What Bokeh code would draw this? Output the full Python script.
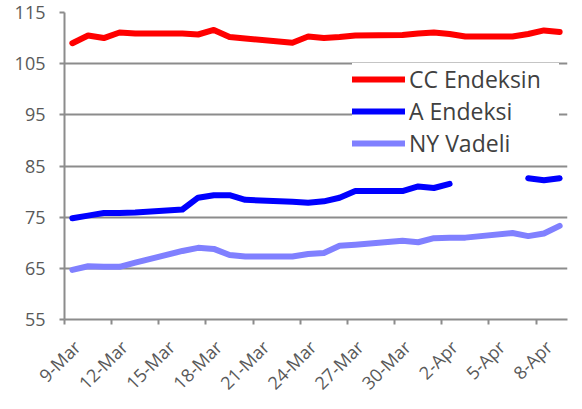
import numpy as np
import pandas as pd
from bokeh.plotting import figure
from bokeh.models import Range1d, FixedTicker, Legend, LegendItem, ColumnDataSource
from bokeh.embed import file_html
from bokeh.resources import INLINE

# ---- data ----
dates = ["2015-03-09", "2015-03-10", "2015-03-11", "2015-03-12", "2015-03-13",
         "2015-03-16", "2015-03-17", "2015-03-18", "2015-03-19", "2015-03-20",
         "2015-03-23", "2015-03-24", "2015-03-25", "2015-03-26", "2015-03-27",
         "2015-03-30", "2015-03-31", "2015-04-01", "2015-04-02", "2015-04-03",
         "2015-04-06", "2015-04-07", "2015-04-08", "2015-04-09"]
cc_index = [109.0, 110.5, 110.0, 111.1, 110.9,
            110.9, 110.7, 111.6, 110.2, 109.9,
            109.1, 110.3, 110.0, 110.2, 110.5,
            110.6, 110.9, 111.1, 110.8, 110.3,
            110.3, 110.8, 111.5, 111.2]
a_index = [74.8, 75.3, 75.8, 75.8, 75.9,
           76.5, 78.8, 79.3, 79.3, 78.4,
           78.0, 77.8, 78.1, 78.8, 80.1,
           80.1, 81.0, 80.7, 81.5, None,
           None, 82.6, 82.2, 82.6]
ny_futures = [64.7, 65.4, 65.3, 65.3, 66.1,
              68.4, 69.0, 68.8, 67.6, 67.3,
              67.3, 67.8, 68.0, 69.4, 69.6,
              70.4, 70.1, 70.9, 71.0, 71.0,
              71.9, 71.3, 71.8, 73.3]
series_names = ["CC Endeksin", "A Endeksi", "NY Vadeli"]
series_colors = ["#FF0000", "#0000FF", "#8080FF"]
x_tick_labels = ["9-Mar", "12-Mar", "15-Mar", "18-Mar", "21-Mar", "24-Mar",
                 "27-Mar", "30-Mar", "2-Apr", "5-Apr", "8-Apr"]
y_ticks = [55, 65, 75, 85, 95, 105, 115]

# ---- positions on a day axis ----
d = pd.to_datetime(dates)
start = d[0]
xday = np.array([(t - start).days for t in d], dtype=float)
n_days = int(xday[-1]) + 1
label_pos = [3 * i + 0.3 for i in range(len(x_tick_labels))]
boundary_pos = [3 * i - 0.5 for i in range(len(x_tick_labels))]

def arr(v):
    return np.array([np.nan if e is None else e for e in v], dtype=float)

src = ColumnDataSource(dict(x=xday, cc=arr(cc_index), a=arr(a_index), ny=arr(ny_futures)))

FONT = "Open Sans"
GRAY = "#8c8c8c"
TXT = "#595959"

p = figure(width=575, height=405, output_backend="svg", toolbar_location=None,
           x_range=Range1d(-0.5, n_days - 0.5), y_range=Range1d(55, 115),
           min_border_left=64, min_border_right=8, min_border_top=12,
           min_border_bottom=72)
p.outline_line_color = None
p.background_fill_color = "white"
p.border_fill_color = "white"

p.xgrid.visible = False
p.ygrid.ticker = FixedTicker(ticks=y_ticks)
p.ygrid.grid_line_color = GRAY
p.ygrid.grid_line_width = 2

# y axis
p.yaxis.ticker = FixedTicker(ticks=y_ticks)
p.yaxis.axis_line_color = GRAY
p.yaxis.axis_line_width = 2
p.yaxis.major_tick_line_color = GRAY
p.yaxis.major_tick_line_width = 2
p.yaxis.major_tick_out = 5
p.yaxis.major_tick_in = 0
p.yaxis.minor_tick_line_color = None
p.yaxis.major_label_standoff = 14
p.yaxis.major_label_text_font = FONT
p.yaxis.major_label_text_font_size = "18px"
p.yaxis.major_label_text_color = TXT

# x axis: labels at day centres, tick marks at slot boundaries
p.xaxis.ticker = FixedTicker(ticks=label_pos, minor_ticks=boundary_pos)
p.xaxis.major_label_overrides = {pos: lab for pos, lab in zip(label_pos, x_tick_labels)}
p.xaxis.major_label_orientation = np.pi / 4
p.xaxis.axis_line_color = GRAY
p.xaxis.axis_line_width = 2
p.xaxis.major_tick_line_color = None
p.xaxis.major_tick_out = 0
p.xaxis.major_tick_in = 0
p.xaxis.minor_tick_line_color = GRAY
p.xaxis.minor_tick_line_width = 2
p.xaxis.minor_tick_out = 5
p.xaxis.minor_tick_in = 0
p.xaxis.major_label_standoff = 19
p.xaxis.major_label_text_font = FONT
p.xaxis.major_label_text_font_size = "18px"
p.xaxis.major_label_text_color = TXT

renderers = []
for col, name, color in zip(["cc", "a", "ny"], series_names, series_colors):
    r = p.line("x", col, source=src, line_width=6, line_color=color,
               line_cap="round", line_join="round")
    renderers.append(r)

legend = Legend(items=[LegendItem(label=nm, renderers=[r]) for nm, r in zip(series_names, renderers)],
                location=(288, 160))
legend.background_fill_color = "white"
legend.background_fill_alpha = 1.0
legend.border_line_color = None
legend.padding = 2
legend.margin = 0
legend.glyph_width = 53
legend.glyph_height = 20
legend.label_height = 20
legend.label_width = 150
legend.spacing = 0
legend.label_standoff = 4
legend.label_text_font = FONT
legend.label_text_font_size = "23px"
legend.label_text_color = "#404040"
p.add_layout(legend)

open("out.html", "w").write(file_html(p, INLINE))
